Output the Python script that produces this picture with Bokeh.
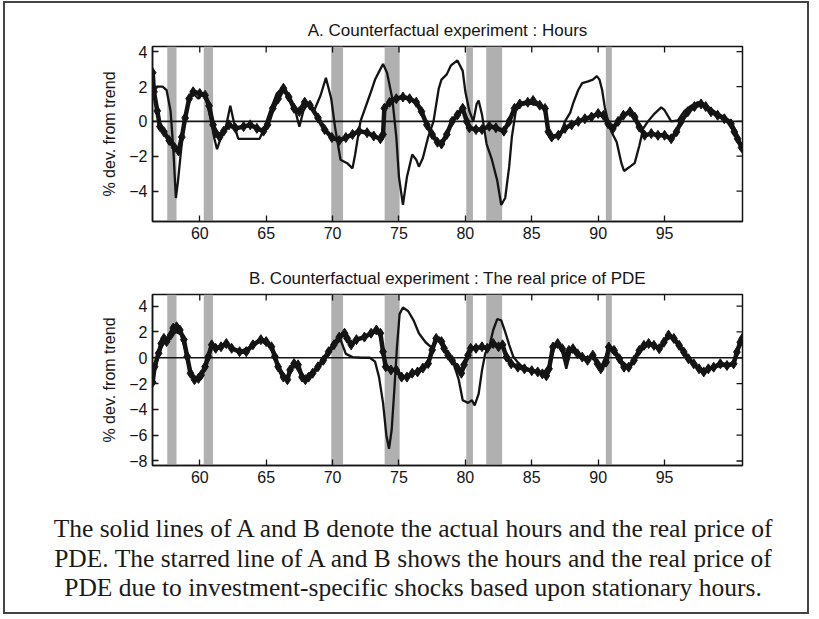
import math
from bokeh.plotting import figure
from bokeh.models import Range1d, FixedTicker, Span, BoxAnnotation, Div
from bokeh.layouts import column
from bokeh.embed import file_html
from bokeh.resources import INLINE

# ---------------- data ----------------
year_ticks = [60, 65, 70, 75, 80, 85, 90, 95]
ticks_a = [-4, -2, 0, 2, 4]
ticks_b = [-8, -6, -4, -2, 0, 2, 4]

rec_start = [57.55, 60.3, 69.9, 73.92, 80.07, 81.57, 90.58]
rec_end = [58.25, 61.0, 70.79, 75.05, 80.57, 82.77, 91.03]

# Panel A: actual hours (solid)
hours_t = [56.45, 56.8, 57.2, 57.5, 57.8, 58.0, 58.2, 58.35, 58.6, 58.9, 59.2, 59.5, 59.9, 60.2,
           60.5, 60.8, 61.1, 61.3, 61.6, 62.0, 62.3, 62.5, 62.7, 62.9, 63.5, 64.0, 64.5, 64.8,
           65.3, 65.8, 66.3, 66.7, 67.2, 67.5, 67.8, 68.2, 68.6, 69.1, 69.5, 69.9, 70.2, 70.6,
           71.1, 71.5, 71.7, 72.1, 72.8, 73.2, 73.6, 73.8, 74.1, 74.5, 74.8, 75.0, 75.3, 75.6,
           76.0, 76.3, 76.5, 76.8, 77.2, 77.6, 78.0, 78.2, 78.6, 78.9, 79.4, 79.8, 80.0, 80.3,
           80.6, 80.85, 81.0, 81.25, 81.6, 82.0, 82.4, 82.7, 83.0, 83.3, 83.5, 83.8, 84.1, 84.6,
           85.0, 85.5, 86.0, 86.25, 86.7, 87.1, 87.5, 87.9, 88.1, 88.5, 88.8, 89.25, 89.6, 89.9,
           90.1, 90.3, 90.5, 90.75, 91.0, 91.4, 91.75, 91.95, 92.4, 92.75, 93.1, 93.4, 93.75,
           94.25, 94.75, 95.0, 95.5, 96.0, 96.5, 97.0, 97.5, 98.0, 98.5, 99.0, 99.5, 100.0,
           100.4, 100.6, 100.8]
hours_v = [1.6, 2.0, 2.0, 1.8, 0.6, -1.5, -4.4, -3.5, -1.6, 0.3, 1.3, 1.6, 1.3, 1.6,
           1.2, 0.2, -1.0, -1.6, -0.9, -0.2, 0.9, 0.2, -0.5, -1.0, -1.0, -1.0, -1.0, -0.5,
           0.6, 1.6, 2.0, 1.3, 0.6, -0.3, 0.6, 1.1, 0.6, 1.5, 2.5, 1.3, -0.4, -2.2,
           -2.4, -2.7, -1.9, 0.0, 1.5, 2.4, 3.0, 3.3, 2.8, 1.3, -0.9, -3.2, -4.8, -3.2,
           -1.9, -2.2, -2.6, -2.1, -0.9, 0.0, 1.9, 2.4, 2.7, 3.2, 3.5, 2.9, 1.7, 0.6,
           0.0, 1.0, 1.2, 0.4, -1.3, -2.2, -3.4, -4.8, -4.4, -2.6, -0.9, 0.6, 0.9, 1.0,
           1.0, 0.9, 0.8, -0.8, -0.9, -0.9, 0.0, 0.5, 1.0, 1.8, 2.2, 2.3, 2.4, 2.6,
           2.4, 1.8, 0.8, 0.0, -0.6, -1.2, -2.4, -2.85, -2.6, -2.4, -1.4, -0.4, 0.0,
           0.45, 0.8, 0.64, 0.0, 0.06, 0.6, 0.9, 1.1, 1.0, 0.7, 0.45, 0.25, 0.0,
           -0.6, -1.2, -1.5]

# Panel A: counterfactual hours (starred)
hours_cf_t = [56.45, 56.55, 56.8, 57.0, 57.3, 57.7, 58.1, 58.4, 58.65, 58.9, 59.2, 59.5, 60.0,
              60.4, 60.7, 61.0, 61.2, 61.5, 61.8, 62.2, 62.7, 63.3, 63.8, 64.3, 64.8, 65.1,
              65.5, 65.9, 66.3, 66.7, 67.1, 67.5, 67.9, 68.3, 68.9, 69.4, 69.95, 70.5, 71.0,
              71.5, 72.0, 72.6, 73.1, 73.6, 73.8, 73.9, 74.3, 74.8, 75.3, 75.8, 76.3, 76.7,
              77.1, 77.5, 77.9, 78.2, 78.6, 79.0, 79.4, 79.8, 80.1, 80.3, 80.8, 81.25, 81.8,
              82.3, 82.9, 83.3, 83.7, 84.1, 84.7, 85.1, 85.6, 86.0, 86.25, 86.5, 87.0, 87.5,
              88.0, 88.5, 89.0, 89.5, 90.0, 90.4, 90.75, 91.1, 91.5, 91.9, 92.4, 92.75, 93.1,
              93.5, 94.0, 94.5, 95.0, 95.5, 95.9, 96.25, 96.75, 97.25, 97.75, 98.1, 98.5,
              99.0, 99.5, 100.0, 100.25, 100.5, 100.8]
hours_cf_v = [2.8, 1.7, 0.6, -0.3, -0.6, -1.1, -1.5, -1.7, -0.9, 0.2, 1.3, 1.7, 1.6,
              1.5, 0.9, -0.2, -0.65, -0.9, -0.56, -0.2, -0.4, -0.3, -0.2, -0.4, -0.56, -0.2,
              0.75, 1.3, 1.9, 1.4, 0.75, 0.56, 1.1, 0.93, 0.2, -0.47, -0.93, -1.1, -0.93,
              -0.75, -0.56, -0.65, -0.84, -1.0, -0.75, 0.75, 1.1, 1.3, 1.4, 1.3, 1.1, 0.56,
              -0.2, -0.75, -1.2, -1.3, -0.75, 0.0, 0.37, 0.75, 0.0, -0.37, -0.47, -0.47, -0.28,
              -0.37, -0.56, 0.0, 0.75, 1.0, 1.1, 1.2, 0.93, 0.74, -0.6, -0.9, -0.8, -0.4,
              -0.2, 0.0, 0.15, 0.25, 0.45, 0.35, -0.14, -0.43, 0.0, 0.35, 0.55, 0.25, -0.33,
              -0.8, -0.7, -0.8, -0.8, -1.0, -0.6, 0.0, 0.55, 0.85, 1.0, 0.85, 0.55,
              0.35, 0.15, -0.14, -0.6, -1.0, -1.5]

# Panel B: actual real price of PDE (solid)
price_t = [56.45, 56.9, 57.3, 57.8, 58.2, 58.6, 59.0, 59.4, 59.9, 60.4, 60.9, 61.6, 62.0, 63.0,
           64.0, 64.6, 65.4, 65.9, 66.5, 67.1, 67.8, 68.5, 69.3, 70.1, 70.6, 71.0, 71.5, 72.2,
           72.8, 73.2, 73.5, 73.8, 74.05, 74.25, 74.45, 74.65, 74.85, 75.05, 75.3, 75.7, 76.1,
           76.5, 77.0, 77.4, 77.7, 78.0, 78.3, 78.6, 79.1, 79.5, 79.8, 80.2, 80.5, 80.7, 81.0,
           81.25, 81.5, 81.8, 82.1, 82.4, 82.7, 83.0, 83.3, 83.6, 83.9, 84.2, 85.0, 85.8, 86.3,
           86.7, 87.0, 87.3, 87.6, 87.9, 88.3, 88.8, 89.6, 90.2, 90.8, 91.6, 92.3, 93.1, 93.8,
           94.6, 95.3, 96.1, 96.8, 97.6, 97.95, 98.7, 99.7, 100.2, 100.7, 100.85]
price_v = [-1.8, 0.3, 1.2, 1.6, 2.0, 1.8, 0.2, -1.4, -1.6, -0.7, 0.9, 0.8, 1.0, 0.5,
           0.9, 1.3, 0.8, -0.6, -1.6, -0.5, -1.6, -1.1, -0.2, 0.9, 1.4, 0.3, 0.05, 0.0,
           0.0, -0.3, -1.5, -3.5, -6.0, -7.05, -5.6, -2.5, 0.85, 3.4, 3.9, 3.6, 2.9,
           1.9, 1.2, 0.85, 1.0, 1.6, 1.0, 0.5, -0.4, -1.7, -3.3, -3.5, -3.3, -3.7, -2.8,
           -1.0, 0.35, 0.85, 2.15, 3.0, 2.9, 2.0, 1.0, 0.1, -0.3, -0.6, -1.0, -1.2, -0.7,
           0.8, 1.0, 0.4, -0.86, 0.4, 0.6, 0.0, 0.1, -0.8, 0.7, -0.1, -0.7, 0.5, 1.0,
           0.7, 1.7, 0.9, -0.1, -0.8, -1.1, -0.7, -0.6, -0.4, 1.1, 1.4]

# Panel B: counterfactual real price of PDE (starred)
price_cf_t = [56.45, 56.6, 56.9, 57.1, 57.3, 57.5, 57.8, 58.0, 58.25, 58.5, 58.8, 59.05, 59.3,
              59.6, 59.9, 60.1, 60.4, 60.65, 60.9, 61.2, 61.6, 62.0, 62.4, 63.0, 63.5, 64.0,
              64.6, 65.0, 65.4, 65.65, 65.9, 66.3, 66.6, 66.8, 67.1, 67.4, 67.7, 67.95, 68.2,
              68.5, 68.9, 69.3, 69.7, 70.1, 70.5, 70.9, 71.1, 71.4, 71.8, 72.4, 72.9, 73.3,
              73.6, 73.8, 74.0, 74.4, 74.8, 75.2, 75.6, 76.0, 76.4, 76.8, 77.2, 77.5, 77.8,
              78.2, 78.4, 78.7, 79.0, 79.4, 79.7, 79.9, 80.2, 80.4, 80.8, 81.25, 81.65, 82.1,
              82.5, 82.8, 83.1, 83.45, 83.95, 84.45, 85.0, 85.45, 85.8, 86.1, 86.3, 86.6,
              86.95, 87.3, 87.6, 87.8, 88.1, 88.45, 88.8, 89.2, 89.6, 89.95, 90.2, 90.6,
              90.8, 91.2, 91.6, 91.95, 92.3, 92.7, 93.1, 93.45, 93.8, 94.2, 94.6, 94.95,
              95.3, 95.7, 96.1, 96.45, 96.8, 97.2, 97.6, 97.95, 98.3, 98.7, 99.2, 99.7,
              100.2, 100.45, 100.7, 100.85]
price_cf_v = [-1.9, -0.7, 0.35, 1.1, 1.5, 1.25, 1.75, 2.3, 2.4, 2.15, 1.4, 0.1, -1.2,
              -1.7, -1.6, -1.35, -0.7, 0.1, 1.0, 0.73, 0.85, 1.1, 0.73, 0.47, 0.47, 1.0,
              1.4, 1.25, 0.85, 0.1, -0.7, -1.5, -1.7, -0.95, -0.45, -0.55, -1.5, -1.7, -1.5,
              -1.2, -0.7, -0.2, 0.47, 1.0, 1.6, 1.9, 1.5, 1.0, 1.4, 1.6, 1.9, 2.15,
              1.9, 0.47, -0.7, -0.95, -0.95, -1.5, -1.5, -1.2, -1.1, -0.8, -0.45, 0.6, 1.5,
              1.25, 0.73, 0.2, -0.2, -0.8, -1.2, -0.55, 0.2, 0.73, 0.73, 0.85, 0.73, 1.1,
              0.85, 1.0, 0.05, -0.47, -0.73, -0.86, -1.0, -1.1, -1.25, -1.4, -0.86, 0.83,
              1.1, 0.7, -0.08, 0.57, 0.7, 0.3, 0.05, -0.2, 0.2, -0.47, -0.86, -0.34,
              0.83, 0.57, -0.08, -0.73, -0.73, -0.2, 0.57, 0.96, 1.1, 0.96, 0.7, 1.2,
              1.75, 1.5, 0.96, 0.44, -0.08, -0.47, -0.86, -1.1, -0.86, -0.73, -0.47, -0.6,
              -0.47, 0.44, 1.2, 1.5]

title_a = "A. Counterfactual experiment : Hours"
title_b = "B. Counterfactual experiment : The real price of PDE"
y_label = "% dev. from trend"
caption_lines = [
    "The solid lines of A and B denote the actual hours and the real price of",
    "PDE. The starred line of A and B shows the hours and the real price of",
    "PDE due to investment-specific shocks based upon stationary hours.",
]

# ---------------- layout ----------------
W = 802
XLO, XHI = 56.44, 100.87
FONT = "Liberation Sans"
INK = "#141414"
BAND = "#b0b0b0"


def panel(title, ylo, yhi, yticks, st, sv, ct, cv, height, mb_top, mb_bot):
    p = figure(width=W, height=height, x_range=Range1d(XLO, XHI), y_range=Range1d(ylo, yhi),
               output_backend="svg", toolbar_location=None, title=title,
               min_border_left=147, min_border_right=65,
               min_border_top=mb_top, min_border_bottom=mb_bot)
    p.title.text_font = FONT
    p.title.text_font_size = "17px"
    p.title.text_font_style = "normal"
    p.title.text_color = INK
    p.title.align = "center"
    p.title.standoff = 14
    p.grid.visible = False
    p.outline_line_color = INK
    p.outline_line_width = 1.5
    p.background_fill_color = "white"
    p.border_fill_color = "white"

    for ax in (p.xaxis[0], p.yaxis[0]):
        ax.major_tick_in = 6
        ax.major_tick_out = 0
        ax.minor_tick_in = 0
        ax.minor_tick_out = 0
        ax.axis_line_color = INK
        ax.axis_line_width = 1.5
        ax.major_tick_line_color = INK
        ax.major_tick_line_width = 1.3
        ax.major_label_text_font = FONT
        ax.major_label_text_font_size = "16px"
        ax.major_label_text_color = INK
    p.xaxis.ticker = FixedTicker(ticks=year_ticks)
    p.yaxis.ticker = FixedTicker(ticks=yticks)
    p.xaxis.major_label_standoff = 5
    p.yaxis.major_label_standoff = 5
    p.yaxis.axis_label = y_label
    p.yaxis.axis_label_text_font = FONT
    p.yaxis.axis_label_text_font_size = "16px"
    p.yaxis.axis_label_text_font_style = "normal"
    p.yaxis.axis_label_text_color = INK
    p.yaxis.axis_label_standoff = 8

    for s, e in zip(rec_start, rec_end):
        p.add_layout(BoxAnnotation(left=s, right=e, fill_color=BAND, fill_alpha=1.0,
                                   line_color=None, level="underlay"))
    p.add_layout(Span(location=0, dimension="width", line_color=INK, line_width=1.6))

    p.line(st, sv, line_color=INK, line_width=2.3)
    p.line(ct, cv, line_color=INK, line_width=4.5)
    p.scatter(ct, cv, marker="diamond", size=10, fill_color=INK, line_color=INK)

    # inward ticks on the top and right sides of the box (clipped to the frame)
    p.scatter(year_ticks, [yhi] * len(year_ticks), marker="dash", size=12, angle=math.pi / 2,
              line_color=INK, line_width=1.3)
    p.scatter([XHI] * len(yticks), yticks, marker="dash", size=12,
              line_color=INK, line_width=1.3)
    return p


pA = panel(title_a, -5.75, 4.3, ticks_a, hours_t, hours_v, hours_cf_t, hours_cf_v,
           255, 43, 37)
pB = panel(title_b, -8.35, 4.9, ticks_b, price_t, price_v, price_cf_t, price_cf_v,
           242, 36, 35)

cap = Div(text=(
    '<div style="width:780px;margin-left:18px;text-align:center;'
    "font-family:'Liberation Serif',serif;font-size:25.5px;line-height:29.5px;"
    'padding-top:14px;color:#1a1a1a">' + "<br>".join(caption_lines) + "</div>"),
    width=W, height=112, margin=0)

layout = column(pA, pB, cap, styles={"border": "2px solid #444", "margin-left": "3px",
                                     "margin-top": "1px", "background": "white"})

open("out.html", "w").write(file_html(layout, INLINE))
